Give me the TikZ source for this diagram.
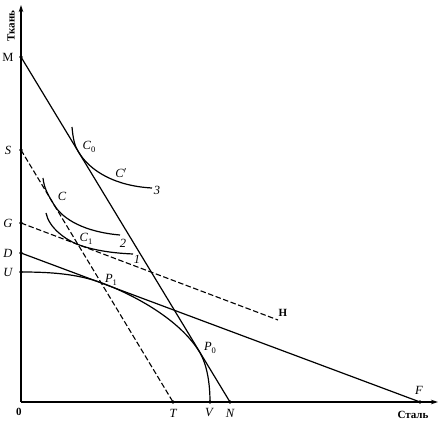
\documentclass[tikz,border=0pt]{standalone}
\usepackage{fontspec}
\setmainfont{Liberation Serif}
\usetikzlibrary{arrows.meta}
\newcommand\mysub[1]{\raisebox{-2.5pt}{\fontsize{8.5}{8.5}\selectfont\upshape #1}}
\begin{document}
\begin{tikzpicture}[x=1pt,y=-1pt,
  ln/.style={line width=1.2pt},
  dsh/.style={line width=1.1pt, dash pattern=on 5.5pt off 2.5pt},
  lbl/.style={font=\fontsize{12.5}{12.5}\selectfont\itshape, inner sep=0pt},
  rlbl/.style={font=\fontsize{12.5}{12.5}\selectfont, inner sep=0pt},
  axlbl/.style={font=\fontsize{11}{11}\selectfont\bfseries, inner sep=0pt},
  axarrow/.style={ln, -{Stealth[length=7pt,width=4.5pt]}}]
\useasboundingbox (0,0) rectangle (440,425);
% points
\coordinate (O) at (21,402);
\coordinate (Ytop) at (21,5);
\coordinate (Xend) at (438,402);
\coordinate (M) at (21,57);
\coordinate (S) at (21,150);
\coordinate (G) at (21,223);
\coordinate (D) at (21,253);
\coordinate (U) at (21,272);
\coordinate (T) at (173,402);
\coordinate (V) at (210,402);
\coordinate (N) at (230,402);
\coordinate (F) at (420,402);
\coordinate (H) at (278,320);
\coordinate (C0) at (78.5,152);
\coordinate (C) at (54.2,205);
\coordinate (C1) at (78,244.5);
\coordinate (P1) at (102,283);
\coordinate (P0) at (199.5,352);
\coordinate (I3s) at (72,127);
\coordinate (I3e) at (152,188);
\coordinate (I2s) at (43,178);
\coordinate (I2e) at (120,235);
\coordinate (I1s) at (46,213);
\coordinate (I1e) at (133,254);
% axes
\draw[axarrow] (O) -- (Ytop);
\draw[axarrow] (O) -- (Xend);
% lines
\draw[ln] (M) -- (N);
\draw[dsh] (S) -- (T);
\draw[dsh] (G) -- (H);
\draw[ln] (D) -- (F);
% production possibility curve
\draw[ln] (U) .. controls (50,272) and (77,273.7) .. (P1)
  .. controls (135,295.3) and (180,319.8) .. (P0)
  .. controls (207.5,365.2) and (210,385) .. (V);
% indifference curves
\draw[ln] (I3s) .. controls (73,138) and (74.5,146) .. (C0)
  .. controls (90,171) and (115,186) .. (I3e);
\draw[ln] (I2s) .. controls (44,189) and (49.4,197) .. (C)
  .. controls (63,219.5) and (85,232) .. (I2e);
\draw[ln] (I1s) .. controls (49,228) and (66,240) .. (C1)
  .. controls (92,249.8) and (110,253) .. (I1e);
% dots
\foreach \p in {M,S,G,D,U,T,V,N,F}
  \fill (\p) circle (1.8);
% labels
\node[axlbl, rotate=90] (lY) at (11,26) {Ткань};
\node[axlbl] (lX) at (413,415) {Сталь};
\node[rlbl] (lM) at (8,57) {M};
\node[lbl] (lS) at (8,150) {S};
\node[lbl] (lG) at (8,223) {G};
\node[lbl] (lD) at (8,253) {D};
\node[lbl] (lU) at (8,272) {U};
\node[rlbl, font=\fontsize{11}{11}\selectfont\bfseries] (l0) at (19,412) {0};
\node[lbl] (lT) at (173,413) {T};
\node[lbl] (lV) at (209,413) {V};
\node[lbl] (lN) at (230,413) {N};
\node[lbl] (lF) at (419,390) {F};
\node[rlbl, font=\fontsize{11}{11}\selectfont\bfseries] (lH) at (283,313) {H};
\node[lbl] (lC0) at (89,147) {C\mysub{0}};
\node[lbl] (lCp) at (121,173) {C$'$};
\node[lbl] (l3) at (157,190) {3};
\node[lbl] (lC) at (62,196) {C};
\node[lbl] (l2) at (123,243) {2};
\node[lbl] (l1) at (137,259) {1};
\node[lbl] (lC1) at (86,239) {C\mysub{1}};
\node[lbl] (lP1) at (111,280) {P\mysub{1}};
\node[lbl] (lP0) at (210,348) {P\mysub{0}};
\end{tikzpicture}
\end{document}
